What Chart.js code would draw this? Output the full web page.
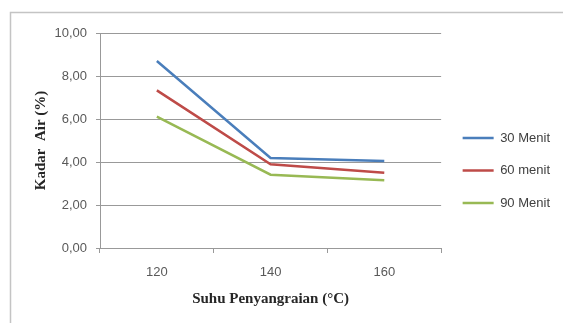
<!DOCTYPE html>
<html>
<head>
<meta charset="utf-8">
<script src="https://cdn.jsdelivr.net/npm/chart.js@4"></script>
<style>
  html, body { margin: 0; padding: 0; background: #fff; }
  #wrap { width: 563px; height: 323px; }
</style>
</head>
<body>
<div id="wrap"><canvas id="kadarChart" width="563" height="323"></canvas></div>
<script>
// data kadar air
const suhu = ['120', '140', '160'];
const menit30 = [8.70, 4.19, 4.05];
const menit60 = [7.33, 3.89, 3.50];
const menit90 = [6.11, 3.41, 3.15];
const yTickLabels = ['0,00', '2,00', '4,00', '6,00', '8,00', '10,00'];

// bingkai abu-abu di sekeliling grafik + geser legenda sedikit ke kanan
const frame = {
    id: 'frame',
    afterLayout(chart) {
        chart.legend.left += 2;
        chart.legend.right += 2;
    },
    beforeDraw(chart) {
        const ctx = chart.ctx;
        ctx.save();
        ctx.fillStyle = '#ffffff';
        ctx.fillRect(0, 0, chart.width, chart.height);
        ctx.strokeStyle = '#c4c4c4';
        ctx.lineWidth = 1.5;
        ctx.strokeRect(10.5, 12.5, 700, 500);
        ctx.restore();
    }
};

const ctx = document.getElementById('kadarChart').getContext('2d');
const kadarChart = new Chart(ctx, {
    type: 'line',
    data: {
        labels: suhu,
        datasets: [
            { label: '30 Menit', data: menit30, borderColor: '#4a7ebb', backgroundColor: '#4a7ebb', borderWidth: 2.5 },
            { label: '60 menit', data: menit60, borderColor: '#be4b48', backgroundColor: '#be4b48', borderWidth: 2.5 },
            { label: '90 Menit', data: menit90, borderColor: '#98b954', backgroundColor: '#98b954', borderWidth: 2.5 }
        ]
    },
    options: {
        responsive: false,
        animation: false,
        devicePixelRatio: 1,
        layout: { padding: { left: 22, top: 33, right: 5, bottom: 15 } },
        elements: {
            line: { tension: 0 },
            point: { radius: 0 }
        },
        plugins: {
            legend: {
                position: 'right',
                labels: {
                    usePointStyle: true,
                    pointStyle: 'line',
                    pointStyleWidth: 31,
                    padding: 19.5,
                    color: '#404040',
                    font: { family: 'Liberation Sans', size: 13 }
                }
            },
            tooltip: { enabled: false }
        },
        scales: {
            x: {
                offset: true,
                afterFit: s => { s.height = 60; },
                grid: { offset: true, drawOnChartArea: false, tickLength: 5, color: '#999999' },
                border: { color: '#999999' },
                ticks: {
                    padding: 12,
                    color: '#595959',
                    font: { family: 'Liberation Sans', size: 13 }
                },
                title: {
                    display: true,
                    text: 'Suhu Penyangraian (°C)',
                    color: '#262626',
                    padding: { top: 0, bottom: 0 },
                    font: { family: 'Liberation Serif', size: 15, weight: 'bold' }
                }
            },
            y: {
                min: 0,
                max: 10,
                afterFit: s => { s.width = 78; },
                ticks: {
                    stepSize: 2,
                    padding: 9,
                    color: '#595959',
                    font: { family: 'Liberation Sans', size: 13 },
                    callback: (v, i) => yTickLabels[i]
                },
                grid: { color: '#999999', tickLength: 4 },
                border: { color: '#999999' },
                title: {
                    display: true,
                    text: 'Kadar  Air (%)',
                    color: '#262626',
                    padding: { top: 10, bottom: 0 },
                    font: { family: 'Liberation Serif', size: 15, weight: 'bold' }
                }
            }
        }
    },
    plugins: [frame]
});
</script>
</body>
</html>
